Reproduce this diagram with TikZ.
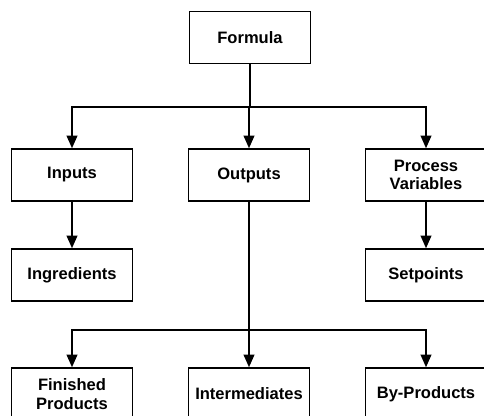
\documentclass[tikz,border=0pt]{standalone}
\usepackage{fontspec}
\setmainfont{Liberation Sans}
\usetikzlibrary{arrows.meta}
\tikzset{
  box/.style={draw, line width=1.1pt, minimum width=91pt, minimum height=39pt, inner sep=0pt,
    align=center, font=\fontsize{12.4}{13.9}\selectfont\bfseries},
  arr/.style={line width=1.4pt, -{Triangle[width=8pt,length=9.5pt]}},
  link/.style={line width=1.4pt}
}
\begin{document}
\begin{tikzpicture}[x=0.75pt,y=-0.75pt]
        \clip (0,0) rectangle (484,415);
        % boxes
        \node [box] (formula) at (250,37.5) {Formula};
        \node [box] (inputs) at (72,175) {Inputs};
        \node [box] (outputs) at (249,175) {Outputs};
        \node [box] (procvar) at (426,175) {Process\\Variables};
        \node [box] (ingred) at (72,275) {Ingredients};
        \node [box] (setpts) at (426,275) {Setpoints};
        \node [box] (finished) at (72,394) {Finished\\Products};
        \node [box] (interm) at (249,394) {Intermediates};
        \node [box] (byprod) at (426,394) {By-Products};
        % junctions
        \coordinate (top) at (249,107);\coordinate (low) at (249,330);
        % arrows from formula
        \draw [link] (formula.south) -- (formula.south |- top);
        \draw [arr] (top) -| (inputs.north);\draw [arr] (top) -- (outputs.north);
        \draw [arr] (top) -| (procvar.north);
        \draw [arr] (inputs.south) -- (ingred.north);\draw [arr] (procvar.south) -- (setpts.north);
        % arrows from outputs
        \draw [link] (outputs.south) -- (low);
        \draw [arr] (low) -| (finished.north);\draw [arr] (low) -- (interm.north);
        \draw [arr] (low) -| (byprod.north);
    \end{tikzpicture}
\end{document}
